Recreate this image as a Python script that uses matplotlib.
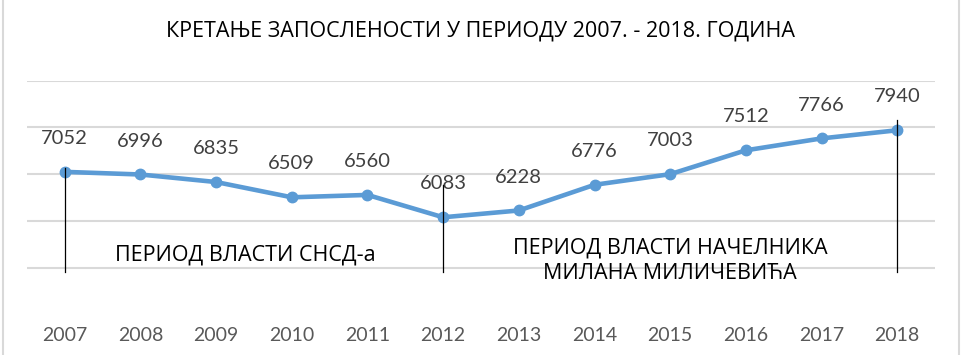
import matplotlib
matplotlib.use('Agg')
import matplotlib.pyplot as plt
from matplotlib.lines import Line2D

plt.rcParams['font.family'] = ['Open Sans', 'DejaVu Sans']

# Podaci
godine = ['2007', '2008', '2009', '2010', '2011', '2012',
          '2013', '2014', '2015', '2016', '2017', '2018']
zaposleni = [7052, 6996, 6835, 6509, 6560, 6083,
             6228, 6776, 7003, 7512, 7766, 7940]
naslov = 'КРЕТАЊЕ ЗАПОСЛЕНОСТИ У ПЕРИОДУ 2007. - 2018. ГОДИНА'
period1 = 'ПЕРИОД ВЛАСТИ СНСД-а'
period2 = 'ПЕРИОД ВЛАСТИ НАЧЕЛНИКА\nМИЛАНА МИЛИЧЕВИЋА'
granice = [0, 5, 11]          # indeksi godina sa vertikalnim linijama
vrh_linije = [7130, 6780, 8160]

fig = plt.figure(figsize=(9.62, 3.55), dpi=100)
ax = fig.add_axes([0.028, 0.113, 0.944, 0.66])

x = list(range(len(godine)))
ax.plot(x, zaposleni, color='#5B9BD5', linewidth=3.3, marker='o',
        markersize=7.5, solid_capstyle='round', zorder=3)

for xi, v in zip(x, zaposleni):
    ax.annotate(str(v), (xi, v), xytext=(0, 24), textcoords='offset points',
                ha='center', va='center', fontsize=14.5, color='#404040',
                family=['Lato', 'DejaVu Sans'])

for gi, top in zip(granice, vrh_linije):
    ax.plot([gi, gi], [4920, top], color='black', linewidth=0.9, zorder=4)

ax.text(2.39, 5280, period1, ha='center', va='center', fontsize=15.5, color='black')
ax.text(8.0, 5150, period2, ha='center', va='center', fontsize=15.5,
        color='black', linespacing=1.3)

ax.set_xlim(-0.5, 11.5)
ax.set_ylim(4000, 9000)
ax.set_yticks([5000, 6000, 7000, 8000, 9000])
ax.yaxis.grid(True, color='#d9d9d9', linewidth=1.5)
ax.set_axisbelow(True)
ax.set_yticklabels([])
ax.tick_params(axis='y', length=0)
ax.set_xticks(x)
ax.set_xticklabels(godine, fontsize=14, color='#595959',
                   family=['Lato', 'DejaVu Sans'])
ax.tick_params(axis='x', length=0, pad=9)
for s in ax.spines.values():
    s.set_visible(False)

fig.text(0.5, 0.912, naslov, ha='center', va='center', fontsize=15.5, color='black')

# okvir grafikona
fig.add_artist(Line2D([0.003, 0.003], [0, 1], color='#d9d9d9', linewidth=1.5))
fig.add_artist(Line2D([0.997, 0.997], [0, 1], color='#d9d9d9', linewidth=1.5))

plt.savefig('out.png', dpi=100)
